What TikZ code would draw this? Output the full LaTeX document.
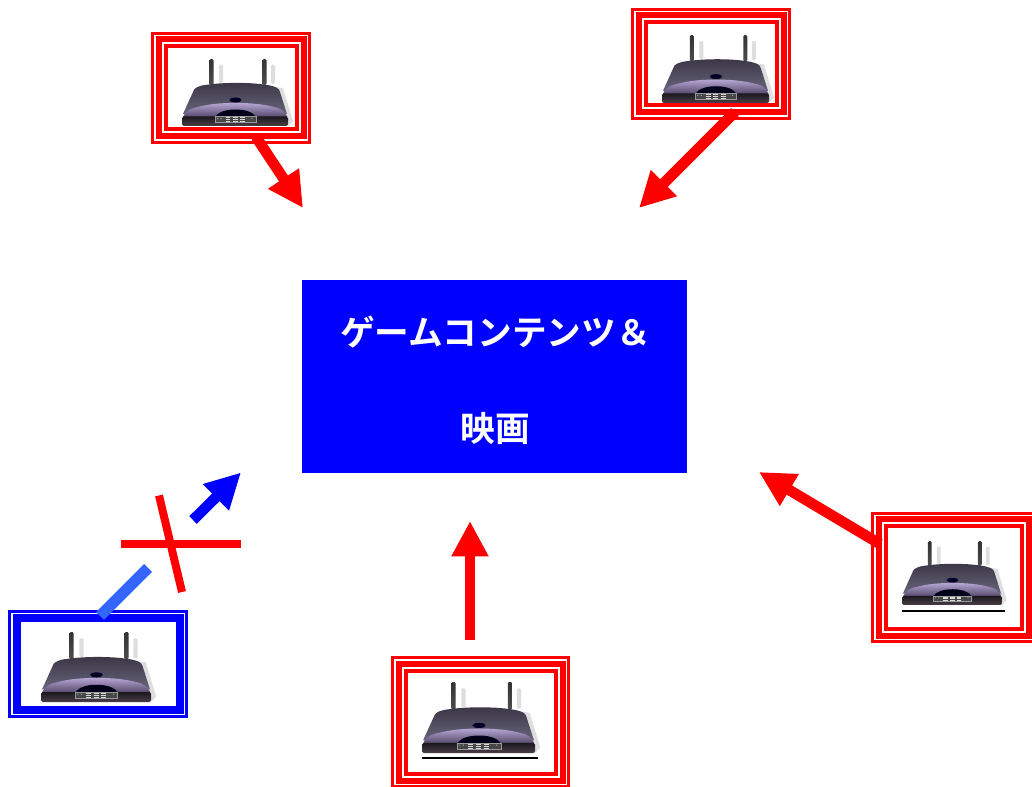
\documentclass[tikz,border=0pt]{standalone}
\usepackage{fontspec}
\newfontfamily\cjkbold{Noto Sans CJK JP Bold}
\usetikzlibrary{arrows.meta}
\definecolor{refred}{RGB}{255,0,0}
\definecolor{refblue}{RGB}{0,0,255}
\definecolor{lightblue}{RGB}{51,102,255}
\definecolor{shadowgrey}{RGB}{222,222,222}
\tikzset{
  px/.style={x=0.75pt,y=-0.75pt},
  frameline/.style={draw,inner sep=0pt,outer sep=0pt,fill=none},
  blockarrow/.style={line width=8pt,-{Triangle[length=26.5pt,width=26pt]}},
  barline/.style={line width=6pt,refred},
  underbar/.style={line width=1.5pt,black},
}
\newcommand{\redframe}[5]{%
  \node[frameline,refred,line width=2.25pt,minimum width={(#4-#2-3)*0.75pt},minimum height={(#5-#3-3)*0.75pt}] (#1o) at ({(#2+#4)/2},{(#3+#5)/2}) {};
  \node[frameline,refred,line width=4.5pt,minimum width={(#4-#2-15)*0.75pt},minimum height={(#5-#3-15)*0.75pt}] (#1m) at ({(#2+#4)/2},{(#3+#5)/2}) {};
  \node[frameline,refred,line width=3pt,minimum width={(#4-#2-29)*0.75pt},minimum height={(#5-#3-29)*0.75pt}] (#1) at ({(#2+#4)/2},{(#3+#5)/2}) {};
}
\newcommand{\blueframe}[5]{%
  \node[frameline,refblue,line width=2.25pt,minimum width={(#4-#2-3)*0.75pt},minimum height={(#5-#3-3)*0.75pt}] (#1o) at ({(#2+#4)/2},{(#3+#5)/2}) {};
  \node[frameline,refblue,line width=6pt,minimum width={(#4-#2-17)*0.75pt},minimum height={(#5-#3-17)*0.75pt}] (#1) at ({(#2+#4)/2},{(#3+#5)/2}) {};
}
% left, top, width, height
\newcommand{\router}[4]{%
\begin{scope}[shift={(#1,#2)},xscale={#3/106},yscale={#4/67}]
  % shadow
  \fill[shadowgrey,rounded corners=0.8pt] (37,6) rectangle (41,24);
  \fill[shadowgrey,rounded corners=0.8pt] (89,6) rectangle (93,25);
  \fill[shadowgrey] (92,28) -- (101,29) -- (111,62) -- (106,67) -- (90,67) -- cycle;
  % antennas
  \shade[top color=black!80,bottom color=black!70,rounded corners=1pt] (27.5,0) rectangle (31.5,26);
  \shade[top color=black!80,bottom color=black!70,rounded corners=1pt] (80.5,0) rectangle (84.5,26);
  % body
  \shade[top color={rgb,255:red,58;green,54;blue,68},bottom color={rgb,255:red,104;green,100;blue,124}]
    (1,55) -- (11,33) .. controls (12,29) and (15,28) .. (20,26.5)
    .. controls (40,23) and (70,23) .. (88,26.5)
    .. controls (94,28) and (97,29) .. (98,33) -- (105,55) -- cycle;
  % lavender band
  \shade[top color={rgb,255:red,190;green,175;blue,222},bottom color={rgb,255:red,85;green,72;blue,105}]
    (1,58) .. controls (4,51) and (10,49) .. (16,48)
    .. controls (35,42.5) and (72,42.5) .. (92,48)
    .. controls (98,49) and (103,52) .. (105.5,58) -- cycle;
  % base
  \shade[top color={rgb,255:red,28;green,24;blue,32},middle color={rgb,255:red,62;green,50;blue,60},bottom color={rgb,255:red,74;green,62;blue,70},rounded corners=1.2pt]
    (0,57.5) rectangle (106,67);
  % button
  \fill[black!85!blue] (53.5,41) ellipse (6.2 and 2.4);
  % panel
  \fill[black!90!blue] (33,58) .. controls (36,53) and (44,50.5) .. (53.5,50.5) .. controls (63,50.5) and (71,53) .. (74,58) -- cycle;
  \fill[black!72,draw=black!40,line width=0.5pt] (33,57.5) rectangle (74,63.5);
  \foreach \cc in {43.5,51,58.2}{
    \foreach \rr in {58.6,60.4,62.2}{
      \draw[black!15,line width=0.45pt] (\cc,\rr) -- ++(4.8,0);
    }
  }
  \fill[black!30] (35.5,59.5) circle (0.6);
  \fill[black!30] (39,59.5) circle (0.6);
  \fill[black!30] (70,59.5) circle (0.6);
\end{scope}}
\begin{document}
\begin{tikzpicture}[px]
\useasboundingbox (0,0) rectangle (1032,787);
\clip (0,0) rectangle (1032,787);
\fill[white] (0,0) rectangle (1032,787);

% routers and frames
\redframe{fa}{151}{32}{311}{144}
\router{182}{59}{106}{67}
\redframe{fb}{631}{8}{791}{120}
\router{662}{35}{107}{68}
\redframe{fc}{871}{512}{1036}{643}
\router{902}{541}{100}{64}
\redframe{fd}{391}{656}{570}{788}
\router{422}{682}{113}{71}
\blueframe{fe}{8}{610}{188}{718}
\router{41}{632}{110}{70}

% underlines
\coordinate (ula) at (422,758);
\coordinate (ulb) at (538,758);
\coordinate (ulc) at (902,611);
\coordinate (uld) at (1005,611);
\draw[underbar] (ula) -- (ulb);
\draw[underbar] (ulc) -- (uld);

% central box
\node[fill=refblue,inner sep=0pt,outer sep=0pt,minimum width=288.75pt,minimum height=144.75pt] (content) at (494.5,376.5) {};
\node[text=white,align=center,inner sep=0pt,font=\cjkbold\fontsize{26pt}{72pt}\selectfont] (contentlabel) at (495.5,380.5) {ゲームコンテンツ＆\\映画};

% arrows
\coordinate (a1s) at (256,137);
\coordinate (a1e) at (303,208);
\coordinate (a2s) at (735,112);
\coordinate (a2e) at (639,208);
\coordinate (a3s) at (470,640);
\coordinate (a3e) at (470,521);
\coordinate (a4s) at (880,544);
\coordinate (a4e) at (759,472);
\coordinate (a5s) at (193,520);
\coordinate (a5e) at (241,472.5);
\draw[blockarrow,refred] (a1s) -- (a1e);
\draw[blockarrow,refred] (a2s) -- (a2e);
\draw[blockarrow,refred] (a3s) -- (a3e);
\draw[blockarrow,refred] (a4s) -- (a4e);
\draw[blockarrow,refblue] (a5s) -- (a5e);

% blocked link
\coordinate (lbs) at (100,616);
\coordinate (lbe) at (148,568);
\draw[lightblue,line width=8.25pt] (lbs) -- (lbe);
\coordinate (xa) at (120.5,544);
\coordinate (xb) at (240.5,544);
\coordinate (xc) at (159,495.5);
\coordinate (xd) at (182,592);
\draw[barline] (xa) -- (xb);
\draw[barline] (xc) -- (xd);
\end{tikzpicture}
\end{document}
